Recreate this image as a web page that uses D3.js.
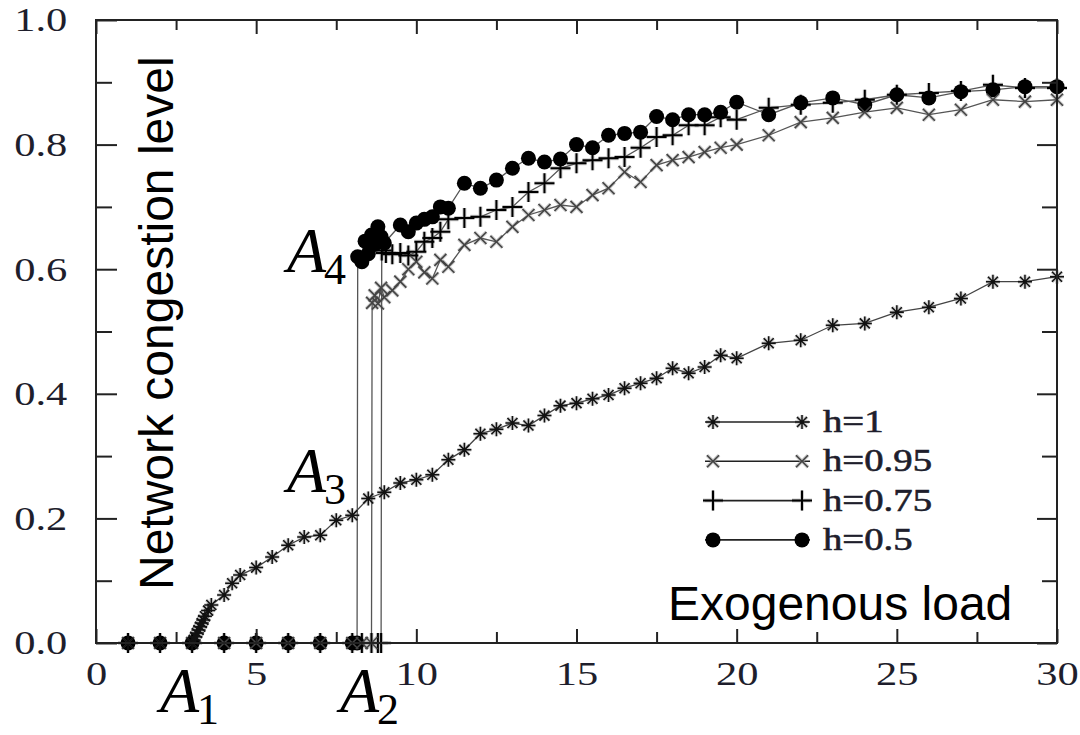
<!DOCTYPE html>
<html>
<head>
<meta charset="utf-8">
<script src="https://cdn.jsdelivr.net/npm/d3@7"></script>
<style>
  body { margin: 0; background: #fff; }
  svg { display: block; }
</style>
</head>
<body>
<div id="chart"></div>
<script>
// tick values
const xMajorTicks = [0, 5, 10, 15, 20, 25, 30];
const xMinorTicks = [2.5, 7.5, 12.5, 17.5, 22.5, 27.5];
const yMajorTicks = [0.0, 0.2, 0.4, 0.6, 0.8, 1.0];
const yMinorTicks = [0.1, 0.3, 0.5, 0.7, 0.9];

const seriesNames = ["h=1", "h=0.95", "h=0.75", "h=0.5"];

// h=1
const h1X = [1, 2, 3, 3.05, 3.1, 3.15, 3.2, 3.25, 3.3, 3.35, 3.4, 3.5, 3.6, 4, 4.25, 4.5, 5, 5.5, 6, 6.5, 7, 7.5, 8, 8.5, 9, 9.5, 10, 10.5, 11, 11.5, 12, 12.5, 13, 13.5, 14, 14.5, 15, 15.5, 16, 16.5, 17, 17.5, 18, 18.5, 19, 19.5, 20, 21, 22, 23, 24, 25, 26, 27, 28, 29, 30];
const h1Y = [0, 0, 0, 0.005, 0.01, 0.016, 0.021, 0.026, 0.032, 0.037, 0.043, 0.052, 0.061, 0.077, 0.096, 0.109, 0.121, 0.138, 0.157, 0.17, 0.173, 0.197, 0.205, 0.232, 0.242, 0.257, 0.262, 0.27, 0.294, 0.31, 0.336, 0.343, 0.353, 0.349, 0.365, 0.381, 0.385, 0.392, 0.398, 0.409, 0.417, 0.425, 0.441, 0.433, 0.443, 0.462, 0.457, 0.481, 0.486, 0.51, 0.513, 0.531, 0.539, 0.553, 0.58, 0.58, 0.588];

// h=0.95
const h95X = [1, 2, 3, 4, 5, 6, 7, 8, 8.3, 8.6, 8.62, 8.7, 8.8, 8.9, 9, 9.25, 9.5, 9.75, 10, 10.25, 10.5, 10.75, 11, 11.5, 12, 12.5, 13, 13.5, 14, 14.5, 15, 15.5, 16, 16.5, 17, 17.5, 18, 18.5, 19, 19.5, 20, 21, 22, 23, 24, 25, 26, 27, 28, 29, 30];
const h95Y = [0, 0, 0, 0, 0, 0, 0, 0, 0, 0, 0.546, 0.558, 0.545, 0.57, 0.555, 0.566, 0.58, 0.6, 0.612, 0.595, 0.585, 0.615, 0.604, 0.639, 0.65, 0.644, 0.668, 0.687, 0.695, 0.703, 0.7, 0.719, 0.73, 0.756, 0.74, 0.767, 0.775, 0.78, 0.788, 0.795, 0.8, 0.815, 0.836, 0.843, 0.852, 0.859, 0.848, 0.856, 0.872, 0.869, 0.872];

// h=0.75
const h75X = [1, 2, 3, 4, 5, 6, 7, 8, 8.3, 8.6, 8.8, 8.9, 8.92, 9.05, 9.25, 9.5, 9.75, 10, 10.25, 10.5, 10.75, 11, 11.5, 12, 12.5, 13, 13.5, 14, 14.5, 15, 15.5, 16, 16.5, 17, 17.5, 18, 18.5, 19, 19.5, 20, 21, 22, 23, 24, 25, 26, 27, 28, 29, 30];
const h75Y = [0, 0, 0, 0, 0, 0, 0, 0, 0, 0, 0, 0, 0.63, 0.626, 0.624, 0.626, 0.622, 0.628, 0.644, 0.65, 0.66, 0.68, 0.682, 0.684, 0.695, 0.7, 0.724, 0.738, 0.762, 0.77, 0.775, 0.778, 0.78, 0.795, 0.812, 0.815, 0.831, 0.831, 0.844, 0.84, 0.859, 0.864, 0.867, 0.872, 0.88, 0.883, 0.886, 0.896, 0.891, 0.891];

// h=0.5
const h5X = [1, 2, 3, 4, 5, 6, 7, 8, 8.15, 8.17, 8.3, 8.4, 8.5, 8.6, 8.7, 8.8, 8.9, 9, 9.5, 9.75, 10, 10.25, 10.5, 10.75, 11, 11.5, 12, 12.5, 13, 13.5, 14, 14.5, 15, 15.5, 16, 16.5, 17, 17.5, 18, 18.5, 19, 19.5, 20, 21, 22, 23, 24, 25, 26, 27, 28, 29, 30];
const h5Y = [0, 0, 0, 0, 0, 0, 0, 0, 0, 0.62, 0.612, 0.645, 0.625, 0.655, 0.64, 0.668, 0.652, 0.642, 0.671, 0.66, 0.674, 0.68, 0.684, 0.7, 0.698, 0.738, 0.73, 0.743, 0.762, 0.778, 0.772, 0.777, 0.8, 0.795, 0.815, 0.818, 0.82, 0.845, 0.84, 0.848, 0.848, 0.852, 0.868, 0.848, 0.867, 0.875, 0.864, 0.88, 0.875, 0.885, 0.888, 0.893, 0.893];

const W = 1080, H = 735;
const svg = d3.select("#chart").append("svg")
    .attr("width", W)
    .attr("height", H)
    .style("background", "#fff");

const x = d3.scaleLinear().domain([0, 30]).range([96, 1057]);
const y = d3.scaleLinear().domain([0, 1]).range([643, 20]);

const serif = "'Liberation Serif', 'DejaVu Serif', serif";
const sans = "'Liberation Sans', Arial, sans-serif";
const labelColor = "#1e1e2c";

// marker paths
function markerPath(kind){
    if(kind === "star"){
        const s = 7, d = 5;
        return `M${-s},0H${s}M0,${-s}V${s}M${-d},${-d}L${d},${d}M${-d},${d}L${d},${-d}`;
    }
    if(kind === "x"){
        const s = 6;
        return `M${-s},${-s}L${s},${s}M${-s},${s}L${s},${-s}`;
    }
    if(kind === "plus"){
        const s = 10;
        return `M${-s},0H${s}M0,${-s}V${s}`;
    }
    return null;
}

const series = [
    {name: seriesNames[3], xs: h5X, ys: h5Y, kind: "circle", stroke: "#555", mstroke: "#000", mw: 0},
    {name: seriesNames[2], xs: h75X, ys: h75Y, kind: "plus", stroke: "#555", mstroke: "#000", mw: 2},
    {name: seriesNames[1], xs: h95X, ys: h95Y, kind: "x", stroke: "#555", mstroke: "#444", mw: 1.6},
    {name: seriesNames[0], xs: h1X, ys: h1Y, kind: "star", stroke: "#444", mstroke: "#111", mw: 1.5}
];

const line = d3.line().x(d => x(d[0])).y(d => y(d[1]));

// layers: soft halos under everything, then lines, then marks
const haloLayer = svg.append("g");
const lineLayer = svg.append("g");
const markLayer = svg.append("g");

function drawHalo(g, kind, mw, px, py){
    if(kind === "circle") return;
    g.append("path")
        .attr("transform", `translate(${px},${py})`)
        .attr("d", markerPath(kind))
        .attr("fill", "none")
        .attr("stroke", "#aaa")
        .attr("stroke-opacity", 0.6)
        .attr("stroke-width", mw + 2);
}
function drawMarker(g, kind, mstroke, mw, px, py){
    if(kind === "circle"){
        g.append("circle").attr("cx", px).attr("cy", py).attr("r", 7.5).attr("fill", "#000");
        return;
    }
    g.append("path")
        .attr("transform", `translate(${px},${py})`)
        .attr("d", markerPath(kind))
        .attr("fill", "none")
        .attr("stroke", mstroke)
        .attr("stroke-width", mw);
}

series.forEach(s => {
    const pts = s.xs.map((v, i) => [v, s.ys[i]]);
    lineLayer.append("path")
        .datum(pts)
        .attr("d", line)
        .attr("fill", "none")
        .attr("stroke", s.stroke)
        .attr("stroke-width", 1.3);
    const g = markLayer.append("g");
    pts.forEach(d => {
        drawHalo(haloLayer, s.kind, s.mw, x(d[0]), y(d[1]));
        drawMarker(g, s.kind, s.mstroke, s.mw, x(d[0]), y(d[1]));
    });
});

// frame
svg.append("rect")
    .attr("x", x(0)).attr("y", y(1))
    .attr("width", x(30) - x(0)).attr("height", y(0) - y(1))
    .attr("fill", "none")
    .attr("stroke", "#222")
    .attr("stroke-width", 2);

// axes with inward ticks
function styleAxis(g){
    g.select(".domain").remove();
    g.selectAll("line").attr("stroke", "#222").attr("stroke-width", 2);
}
svg.append("g").attr("transform", `translate(0,${y(0)})`)
    .call(d3.axisBottom(x).tickValues(xMinorTicks).tickSize(-11).tickFormat(""))
    .call(styleAxis);
svg.append("g").attr("transform", `translate(0,${y(1)})`)
    .call(d3.axisTop(x).tickValues(xMinorTicks).tickSize(-10).tickFormat(""))
    .call(styleAxis);
svg.append("g").attr("transform", `translate(0,${y(1)})`)
    .call(d3.axisTop(x).tickValues(xMajorTicks).tickSize(-14).tickFormat(""))
    .call(styleAxis);
const xAxis = svg.append("g").attr("transform", `translate(0,${y(0)})`)
    .call(d3.axisBottom(x).tickValues(xMajorTicks).tickSize(-14).tickPadding(18).tickFormat(d3.format("d")))
    .call(styleAxis);
xAxis.selectAll("text")
    .attr("fill", labelColor)
    .style("font-family", serif)
    .style("font-size", "34px")
    .attr("transform", "scale(1.25,1)");

svg.append("g").attr("transform", `translate(${x(0)},0)`)
    .call(d3.axisLeft(y).tickValues(yMinorTicks).tickSize(-16).tickFormat(""))
    .call(styleAxis);
svg.append("g").attr("transform", `translate(${x(30)},0)`)
    .call(d3.axisRight(y).tickValues(yMinorTicks).tickSize(-15).tickFormat(""))
    .call(styleAxis);
svg.append("g").attr("transform", `translate(${x(30)},0)`)
    .call(d3.axisRight(y).tickValues(yMajorTicks).tickSize(-20).tickFormat(""))
    .call(styleAxis);
const yAxis = svg.append("g").attr("transform", `translate(${x(0)},0)`)
    .call(d3.axisLeft(y).tickValues(yMajorTicks).tickSize(-21).tickPadding(23).tickFormat(d3.format(".1f")))
    .call(styleAxis);
yAxis.selectAll("text")
    .attr("fill", labelColor)
    .style("font-family", serif)
    .style("font-size", "34px")
    .attr("transform", "scale(1.25,1)");

// legend
const legendRows = [
    {name: seriesNames[0], kind: "star", mstroke: "#111", mw: 1.5},
    {name: seriesNames[1], kind: "x", mstroke: "#444", mw: 1.6},
    {name: seriesNames[2], kind: "plus", mstroke: "#000", mw: 2},
    {name: seriesNames[3], kind: "circle", mstroke: "#000", mw: 0}
];
const legend = svg.append("g");
legendRows.forEach((r, i) => {
    const ly = 422 + i * 39.3;
    legend.append("line")
        .attr("x1", 705).attr("x2", 810)
        .attr("y1", ly).attr("y2", ly)
        .attr("stroke", "#222").attr("stroke-width", 1.6);
    [713, 802].forEach(mx => {
        drawHalo(legend, r.kind, r.mw, mx, ly);
        drawMarker(legend, r.kind, r.mstroke, r.mw, mx, ly);
    });
    legend.append("text")
        .attr("transform", `translate(823,${ly + 10}) scale(1.25,1)`)
        .attr("fill", labelColor)
        .attr("stroke", labelColor)
        .attr("stroke-width", 0.6)
        .style("font-family", serif)
        .style("font-size", "31px")
        .text(r.name);
});

// axis titles
svg.append("text")
    .attr("transform", "translate(173,590) rotate(-90)")
    .style("font-family", sans)
    .style("font-size", "48px")
    .attr("fill", "#000")
    .text("Network congestion level");
svg.append("text")
    .attr("x", 668).attr("y", 620)
    .style("font-family", sans)
    .style("font-size", "48px")
    .attr("fill", "#000")
    .text("Exogenous load");

// point labels A1..A4
const annLabels = [
    {sub: "1", x: 160, y: 712},
    {sub: "2", x: 340, y: 712},
    {sub: "3", x: 287, y: 492},
    {sub: "4", x: 287, y: 272}
];
annLabels.forEach(a => {
    const t = svg.append("text")
        .attr("x", a.x).attr("y", a.y)
        .style("font-family", serif)
        .style("font-size", "64px")
        .attr("fill", "#000");
    t.append("tspan").style("font-style", "italic").text("A");
    t.append("tspan").attr("dy", 12).attr("dx", -2).style("font-size", "44px").text(a.sub);
});
</script>
</body>
</html>
